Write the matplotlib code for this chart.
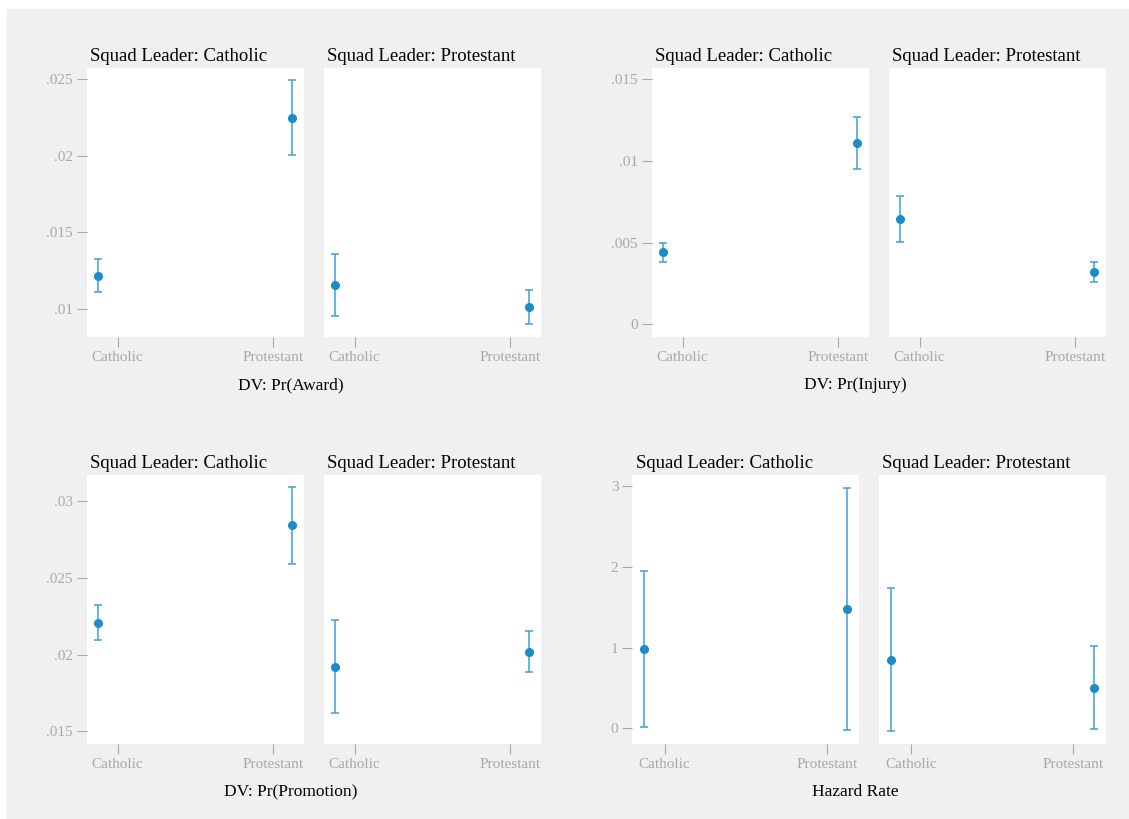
import numpy as np
import matplotlib.pyplot as plt

plt.rcParams["font.family"] = ["Liberation Serif", "DejaVu Serif"]

W, H = 1129, 819

# x positions of the two markers inside each panel (slightly offset from ticks)
x_pos = [-0.125, 1.125]
tick_labels = ["Catholic", "Protestant"]
leaders = ["Squad Leader: Catholic", "Squad Leader: Protestant"]

# Pr(Award): [leader][soldier] -> estimate, lower, upper
award_est = [[0.01217, 0.02249], [0.01155, 0.01011]]
award_lo = [[0.01113, 0.02003], [0.00956, 0.00902]]
award_hi = [[0.01324, 0.02497], [0.01357, 0.01122]]

# Pr(Injury)
injury_est = [[0.00441, 0.01108], [0.00643, 0.00320]]
injury_lo = [[0.00380, 0.00949], [0.00502, 0.00259]]
injury_hi = [[0.00500, 0.01269], [0.00787, 0.00380]]

# Pr(Promotion)
promo_est = [[0.02209, 0.02843], [0.01922, 0.02020]]
promo_lo = [[0.02094, 0.02591], [0.01620, 0.01887]]
promo_hi = [[0.02326, 0.03095], [0.02224, 0.02153]]

# Hazard rate
hazard_est = [[0.983, 1.483], [0.850, 0.503]]
hazard_lo = [[0.016, -0.017], [-0.037, -0.012]]
hazard_hi = [[1.950, 2.983], [1.739, 1.024]]

groups = [
    dict(est=award_est, lo=award_lo, hi=award_hi, label="DV: Pr(Award)",
         ticks=[0.01, 0.015, 0.02, 0.025], tlabels=[".01", ".015", ".02", ".025"],
         ylim=(0.00819, 0.02572), lefts=[86.7, 323.7], top=68.3, bot=336.7,
         lab_xy=(291, 385)),
    dict(est=injury_est, lo=injury_lo, hi=injury_hi, label="DV: Pr(Injury)",
         ticks=[0, 0.005, 0.01, 0.015], tlabels=["0", ".005", ".01", ".015"],
         ylim=(-0.00076, 0.01567), lefts=[651.7, 888.7], top=68.3, bot=336.7,
         lab_xy=(855.5, 385)),
    dict(est=promo_est, lo=promo_lo, hi=promo_hi, label="DV: Pr(Promotion)",
         ticks=[0.015, 0.02, 0.025, 0.03], tlabels=[".015", ".02", ".025", ".03"],
         ylim=(0.01419, 0.0317), lefts=[86.7, 323.7], top=475.3, bot=743.7,
         lab_xy=(290.5, 792.5)),
    dict(est=hazard_est, lo=hazard_lo, hi=hazard_hi, label="Hazard Rate",
         ticks=[0, 1, 2, 3], tlabels=["0", "1", "2", "3"],
         ylim=(-0.191, 3.136), lefts=[632.3, 878.7], top=475.3, bot=743.7,
         lab_xy=(855.7, 792.5), width=227),
]

bg = "#f0f0f0"
pt_col = "#1a8ccc"
bar_col = "#3fa0d6"
grey = "#a8a8a8"

fig = plt.figure(figsize=(W / 100, H / 100), dpi=100)
fig.patch.set_facecolor("white")
fig.patches.append(plt.Rectangle((7 / W, 0), 1 - 7 / W, 1 - 9 / H,
                                 transform=fig.transFigure, color=bg, zorder=-10))

for g in groups:
    pw = g.get("width", 217)
    for j in range(2):
        left = g["lefts"][j]
        ax = fig.add_axes([left / W, 1 - g["bot"] / H, pw / W, (g["bot"] - g["top"]) / H])
        ax.set_facecolor("white")
        est = np.array(g["est"][j])
        lo = np.array(g["lo"][j])
        hi = np.array(g["hi"][j])
        ax.errorbar(x_pos, est, yerr=[est - lo, hi - est], fmt="none",
                    ecolor=bar_col, elinewidth=1.1, capsize=3, capthick=1.1)
        ax.plot(x_pos, est, "o", color=pt_col, markersize=5.5, zorder=3)
        ax.set_xlim(-0.2, 1.2)
        ax.set_ylim(g["ylim"])
        ax.set_xticks([0, 1])
        ax.set_xticklabels(tick_labels)
        if j == 0:
            ax.set_yticks(g["ticks"])
            ax.set_yticklabels(g["tlabels"])
        else:
            ax.set_yticks([])
        for s in ax.spines.values():
            s.set_visible(False)
        ax.tick_params(axis="both", colors=grey, labelcolor=grey, labelsize=11,
                       length=7, width=0.8, pad=3)
        ax.text(0.015, 1.012, leaders[j], transform=ax.transAxes, fontsize=13.5,
                ha="left", va="bottom", color="black")
    fig.text(g["lab_xy"][0] / W, 1 - g["lab_xy"][1] / H, g["label"], fontsize=12.5,
             ha="center", va="center", color="black")

fig.savefig("out.png", dpi=100, facecolor=fig.get_facecolor())
